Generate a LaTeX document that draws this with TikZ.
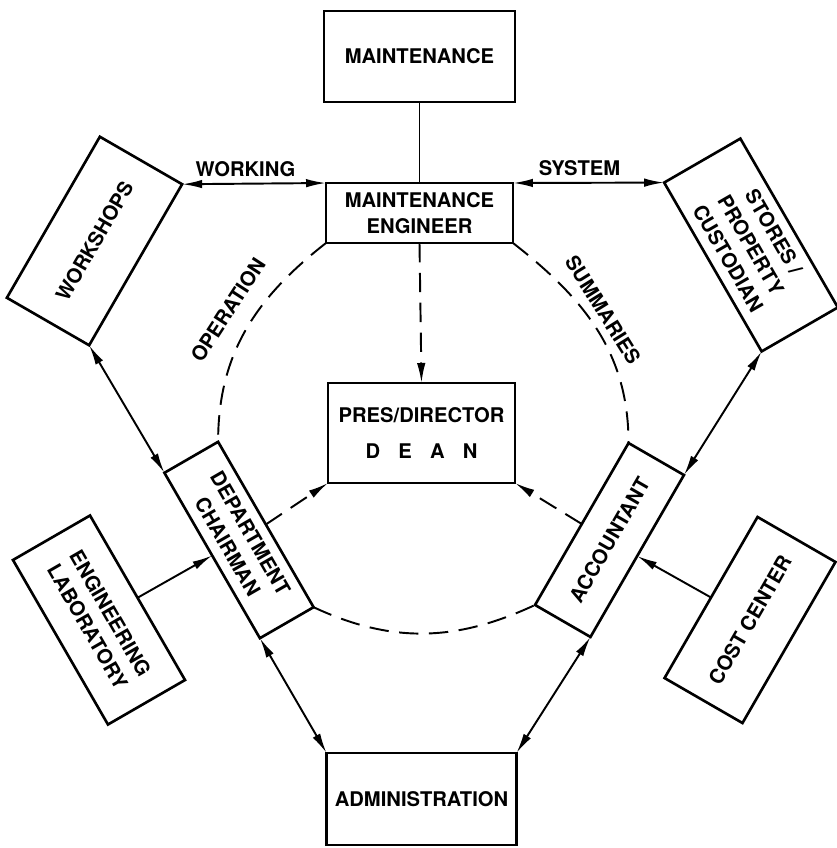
\documentclass[tikz,border=0pt]{standalone}
\usepackage{fontspec}
\setmainfont{TeX Gyre Heros}
\usetikzlibrary{positioning,arrows.meta}
\tikzset{
  >={Latex[length=4mm,width=1.7mm]},
  every node/.style={font=\fontsize{11.5}{15}\selectfont\bfseries},
  box/.style={draw, line width=1.5pt, inner sep=0pt, outer sep=0pt, align=center},
  link/.style={line width=1.1pt},
  flow/.style={line width=1.1pt, dash pattern=on 11pt off 6pt},
}

\begin{document}
\begin{tikzpicture}[x=0.02cm, y=0.02cm]
    \useasboundingbox (0,0) rectangle (836,-848);
    % inner ring
    \node[box, minimum width=3.74cm, minimum height=2cm] (pres) at (421.5,-433)
      {PRES/DIRECTOR\\[6pt]D\hspace{0.9em}E\hspace{0.9em}A\hspace{0.9em}N};
    \node[box, minimum width=3.74cm, minimum height=1.2cm] (mte) at (419.5,-213) {MAINTENANCE\\ENGINEER};
    \node[box, rotate=-60, minimum width=3.82cm, minimum height=1.24cm] (chair) at (239,-540) {DEPARTMENT\\CHAIRMAN};
    \node[box, rotate=60, minimum width=3.74cm, minimum height=1.28cm] (acct) at (609.5,-540) {ACCOUNTANT};
    % outer boxes
    \node[box, minimum width=3.82cm, minimum height=1.82cm] (maint) [above=1.62cm of mte] {MAINTENANCE};
    \node[box, minimum width=3.8cm, minimum height=1.84cm] (admin) [below=5.4cm of pres] {ADMINISTRATION};
    \node[box, rotate=60, minimum width=3.72cm, minimum height=1.9cm] (shops) at (94.5,-241) {WORKSHOPS};
    \node[box, rotate=-60, minimum width=3.9cm, minimum height=1.76cm] (stores) at (751,-245) {STORES /\\PROPERTY\\CUSTODIAN};
    \node[box, rotate=-60, minimum width=3.8cm, minimum height=1.78cm] (lab) at (99,-620) {ENGINEERING\\LABORATORY};
    \node[box, rotate=60, minimum width=3.72cm, minimum height=1.8cm] (cost) at (750,-620) {COST CENTER};
    % solid links
    \draw[link] (maint) -- (mte);
    \draw[link, <->] (shops.south east) -- node[above, pos=0.44] {WORKING} (mte.north west);
    \draw[link, <->] (mte.north east) -- node[above, pos=0.44] {SYSTEM} (stores.south west);
    \draw[link, <->] (shops.south west) -- (chair.south west);
    \draw[link, <->] (stores.south east) -- (acct.south east);
    \draw[link, <->] (chair.south east) -- (admin.north west);
    \draw[link, <->] (acct.south west) -- (admin.north east);
    \draw[link, ->] (lab.north) -- (chair.south);
    \draw[link, ->] (cost.north) -- (acct.south);
    % dashed ring
    \draw[flow, ->] (mte.south) -- (pres.north);
    \draw[flow, ->] (chair.north) -- (pres.south west);
    \draw[flow, ->] (acct.north) -- (pres.south east);
    \draw[flow] (mte.south west) to[out=218, in=90] (chair.north west);
    \draw[flow] (mte.south east) to[out=-38, in=90] (acct.north east);
    \draw[flow] (chair.north east) to[out=-25, in=205] (acct.north west);
    \node[rotate=57] (oplbl) at (228,-310) {OPERATION};
    \node[rotate=-58] (sumlbl) at (603,-310) {SUMMARIES};
  \end{tikzpicture}
\end{document}
